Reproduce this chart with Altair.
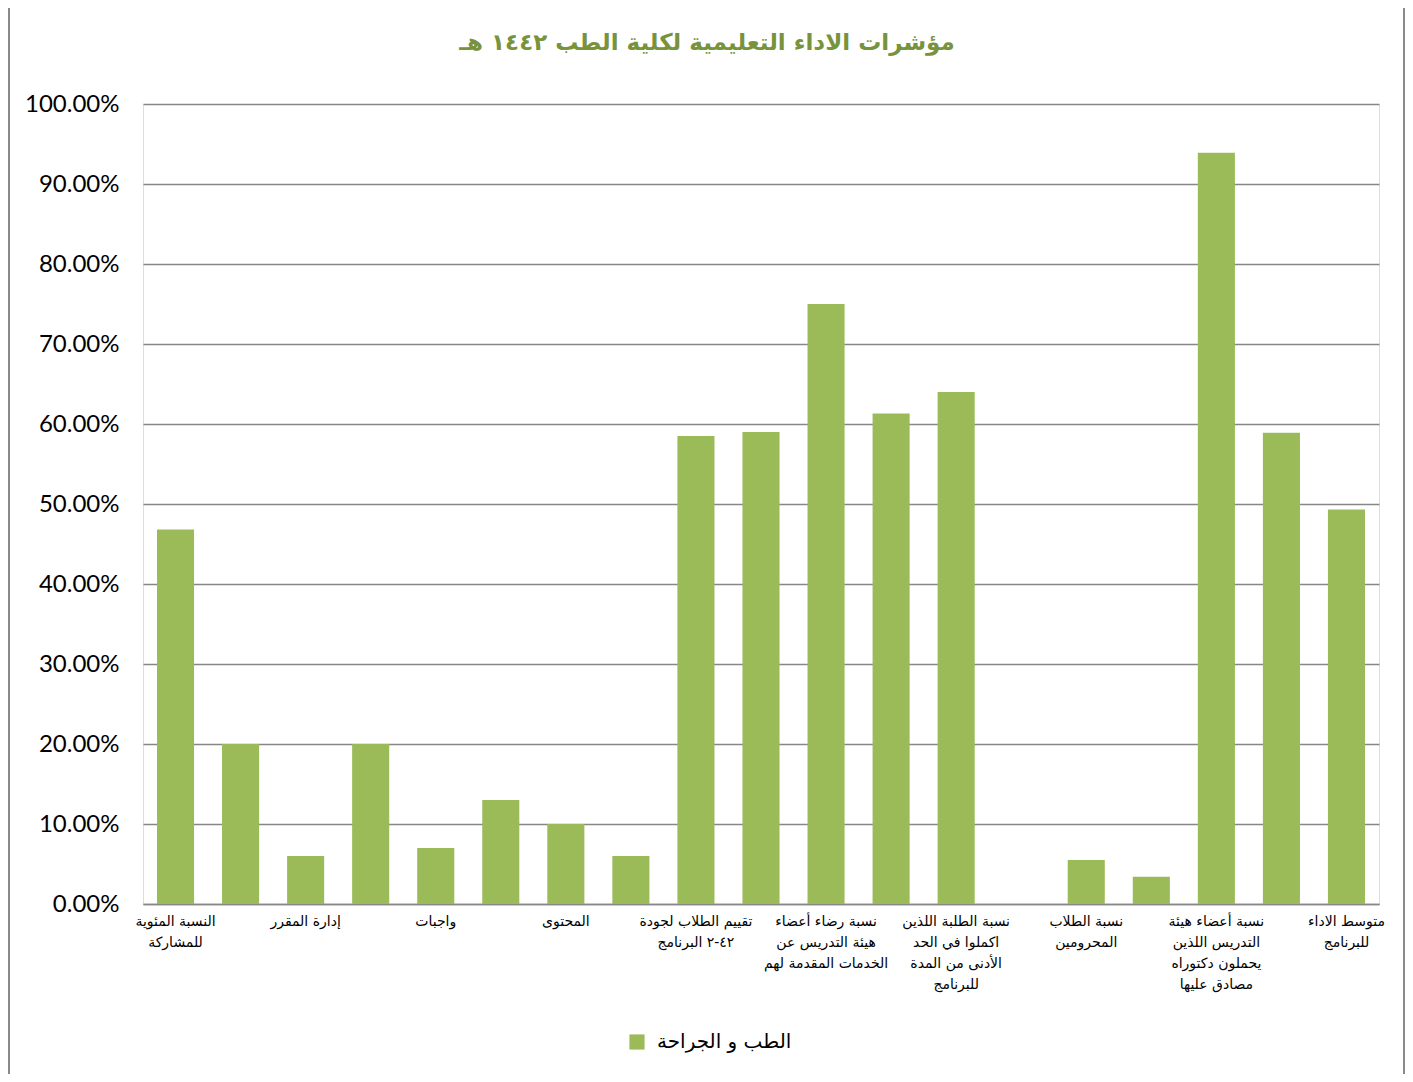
import json
import altair as alt
import pandas as pd

title_text = "مؤشرات الاداء التعليمية لكلية الطب ١٤٤٢ هـ"
series_name = "الطب و الجراحة"

# 19 category slots (Excel shows every other label)
values = [46.8, 20.0, 6.0, 20.0, 7.0, 13.0, 10.0, 6.0, 58.5, 59.0,
          75.0, 61.3, 64.0, None, 5.5, 3.4, 93.9, 58.9, 49.3]

labels = [
    ["النسبة المئوية", "للمشاركة"],
    [""],
    ["إدارة المقرر"],
    [""],
    ["واجبات"],
    [""],
    ["المحتوى"],
    [""],
    ["تقييم الطلاب لجودة", "٤٢-٢  البرنامج"],
    [""],
    ["نسبة رضاء أعضاء", "هيئة التدريس عن", "الخدمات المقدمة لهم"],
    [""],
    ["نسبة الطلبة اللذين", "اكملوا في الحد", "الأدنى من المدة", "للبرنامج"],
    [""],
    ["نسبة الطلاب", "المحرومين"],
    [""],
    ["نسبة أعضاء هيئة", "التدريس اللذين", "يحملون دكتوراه", "مصادق عليها"],
    [""],
    ["متوسط الاداء", "للبرنامج"],
]

idx = list(range(len(values)))
df = pd.DataFrame({
    "idx": idx,
    "value": [None if v is None else v / 100.0 for v in values],
    "series": [series_name] * len(values),
})

label_expr = json.dumps(labels, ensure_ascii=False) + "[datum.value]"

W, H = 1236, 800
GREEN = "#9BBB59"
GRID = "#878787"
AR_FONT = "DejaVu Sans"

bars = alt.Chart(df).mark_bar(color=GREEN).encode(
    x=alt.X(
        "idx:O",
        scale=alt.Scale(domain=idx, paddingInner=0.43, paddingOuter=0.215),
        axis=alt.Axis(
            title=None, labelAngle=0, labelExpr=label_expr,
            labelFont=AR_FONT, labelFontSize=14, labelColor="#000000",
            labelBaseline="top", labelLineHeight=21, labelPadding=10,
            labelLimit=0, labelOverlap=False, ticks=False, grid=False,
            domain=True, domainColor=GRID, domainWidth=1.5,
        ),
    ),
    y=alt.Y(
        "value:Q",
        scale=alt.Scale(domain=[0, 1], nice=False),
        axis=alt.Axis(
            title=None, format=".2%", values=[i / 10 for i in range(11)],
            labelFont="Lato", labelFontSize=24, labelColor="#000000",
            labelPadding=24, ticks=False, domain=False,
            grid=True, gridColor=GRID, gridWidth=1.5,
        ),
    ),
    color=alt.Color(
        "series:N",
        scale=alt.Scale(domain=[series_name], range=[GREEN]),
        legend=alt.Legend(
            title=None, orient="none", legendX=484, legendY=928,
            symbolType="square", symbolSize=230, symbolStrokeWidth=0,
            labelFont=AR_FONT, labelFontSize=20, labelColor="#000000",
            labelOffset=10,
        ),
    ),
)

title = alt.Chart(pd.DataFrame({"t": [title_text]})).mark_text(
    font=AR_FONT, fontSize=23, fontWeight="bold", color="#77933C",
    align="center", baseline="middle",
).encode(text="t:N", x=alt.value(564), y=alt.value(-61))

frame = alt.Chart(pd.DataFrame({"x": [0]})).mark_rule(
    color="#8a8a8a", strokeWidth=2
).encode(
    x=alt.value(-134), y=alt.value(-96), y2=alt.value(H + 170)
)
frame_r = alt.Chart(pd.DataFrame({"x": [0]})).mark_rule(
    color="#8a8a8a", strokeWidth=2
).encode(
    x=alt.value(W + 25), y=alt.value(-96), y2=alt.value(H + 170)
)

chart = alt.layer(bars, title, frame, frame_r).properties(
    width=W,
    height=H,
    autosize=alt.AutoSizeParams(type="none"),
    padding={"left": 135, "top": 96, "right": 26, "bottom": 170},
).configure_view(stroke="#ffffff", strokeOpacity=0, strokeWidth=0).configure(background="white")

chart.save("out.html", embed_options={"renderer": "svg", "actions": False})
